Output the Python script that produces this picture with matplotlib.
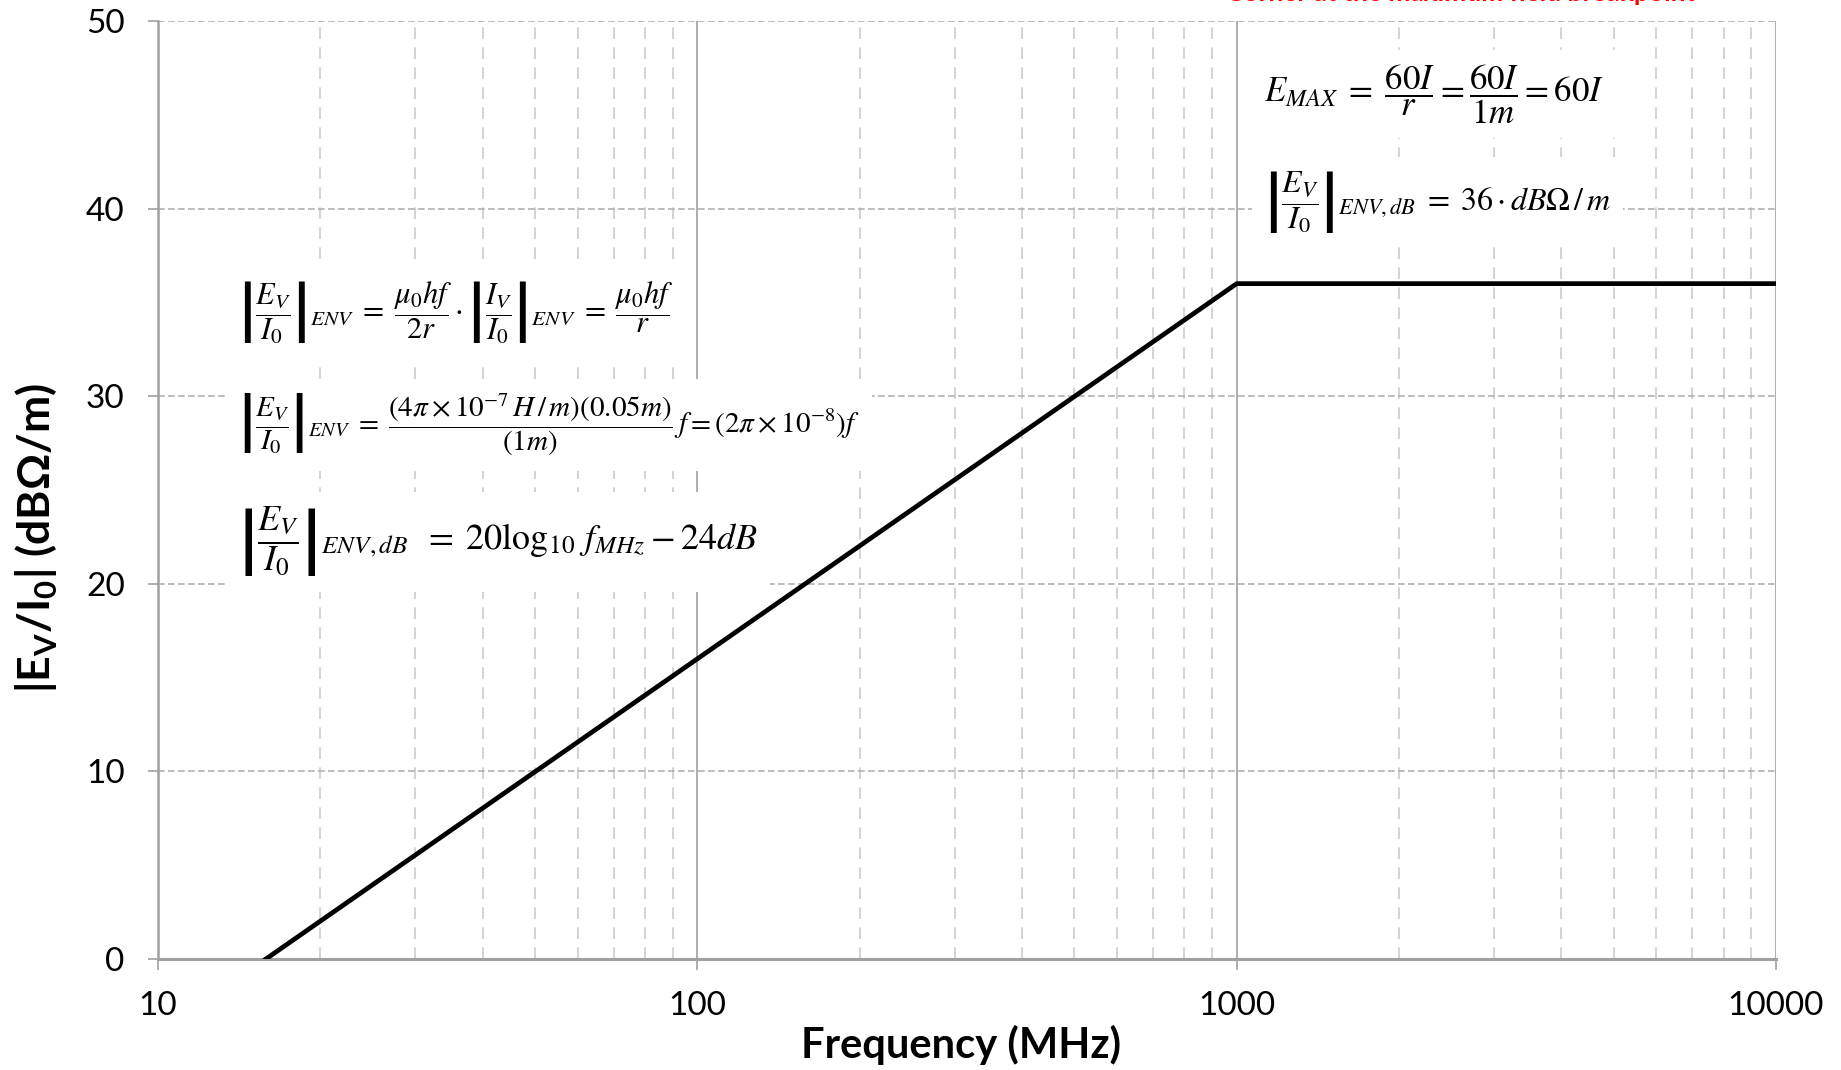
import numpy as np
import matplotlib.pyplot as plt
from matplotlib.ticker import FixedLocator, NullFormatter

# Données de la courbe (enveloppe |Ev/I0| en dB)
freq_mhz = [15.85, 1000, 10000]
niveau_db = [0, 36, 36]

x_ticks = [10, 100, 1000, 10000]
x_labels = ['10', '100', '1000', '10000']
y_ticks = [0, 10, 20, 30, 40, 50]

plt.rcParams['mathtext.fontset'] = 'custom'
plt.rcParams['mathtext.rm'] = 'Lato'
plt.rcParams['mathtext.bf'] = 'Lato:bold'

W, H = 1841, 1070
fig = plt.figure(figsize=(W / 100, H / 100), dpi=100)
ax = fig.add_axes([158 / W, 1 - 959 / H, (1776 - 158) / W, (959 - 21) / H])

# Tracer la courbe
ax.plot(freq_mhz, niveau_db, color='black', lw=3.4, zorder=5, solid_joinstyle='miter')

ax.set_xscale('log')
ax.set_xlim(10, 10000)
ax.set_ylim(0, 50)

# Grille
ax.xaxis.set_major_locator(FixedLocator(x_ticks))
ax.set_xticklabels(x_labels)
minors = [m * d for d in [10, 100, 1000] for m in range(2, 10)]
ax.xaxis.set_minor_locator(FixedLocator(minors))
ax.xaxis.set_minor_formatter(NullFormatter())
ax.set_yticks(y_ticks)
for v in x_ticks:
    ax.axvline(v, color='#a0a0a0', lw=1.2, zorder=1)
for v in minors:
    ax.axvline(v, color='#cccccc', lw=1.2, ls=(0, (7, 5)), zorder=1)
for v in y_ticks[1:]:
    ax.axhline(v, color='#b0b0b0', lw=1.2, ls=(0, (4, 2)), zorder=1)

for s in ['top', 'right']:
    ax.spines[s].set_visible(False)
ax.spines['left'].set_color('#a0a0a0')
ax.spines['left'].set_linewidth(1.8)
ax.spines['bottom'].set_color('#a0a0a0')
ax.spines['bottom'].set_linewidth(2.2)

ax.tick_params(axis='x', which='major', length=8, width=1.2, color='#a0a0a0', pad=15,
               labelsize=24)
ax.tick_params(axis='x', which='minor', length=0)
ax.tick_params(axis='y', length=7, width=1.2, color='#a0a0a0', pad=17, labelsize=24)
for lab in ax.get_xticklabels() + ax.get_yticklabels():
    lab.set_fontfamily('Lato')

ax.set_xlabel('Frequency (MHz)', fontsize=30, fontweight='bold', family='Lato', va='center')
ax.xaxis.set_label_coords(0.496, -0.092)
ax.set_ylabel(r'|E$_\mathbf{V}$/I$_\mathbf{0}$| (dB$\mathbf{\Omega}$/m)', fontsize=32,
              fontweight='bold', family='Lato', math_fontfamily='custom', va='center')
ax.yaxis.set_label_coords(-0.075, 0.449)


def eq(x, y, s, size):
    fig.text(x / W, 1 - y / H, s, fontsize=size, ha='left', va='center',
             math_fontfamily='stix', zorder=4,
             bbox=dict(facecolor='white', edgecolor='none', pad=9))


eq(238, 313, r'$\left|\dfrac{E_V}{I_0}\right|_{ENV}\;=\;\dfrac{\mu_0 hf}{2r}\cdot'
             r'\left|\dfrac{I_V}{I_0}\right|_{ENV}\;=\;\dfrac{\mu_0 hf}{r}$', 22)
eq(238, 425, r'$\left|\dfrac{E_V}{I_0}\right|_{ENV}\;=\;\dfrac{(4\pi\times10^{-7}\,H\,/\,m)(0.05m)}{(1m)}'
             r'\,f = (2\pi\times10^{-8})f$', 21)
eq(238, 542, r'$\left|\dfrac{E_V}{I_0}\right|_{ENV,dB}\;\;=\;20\log_{10}\,f_{MHz} - 24dB$', 26)
eq(1264, 94, r'$E_{MAX}\;=\;\dfrac{60I}{r} = \dfrac{60I}{1m} = 60I$', 25)
eq(1264, 202, r'$\left|\dfrac{E_V}{I_0}\right|_{ENV,dB}\;=\;36\cdot dB\Omega\,/\,m$', 23)

# Texte rouge coupé en haut de l'image
fig.text(1461 / W, 1 - 1 / H, 'Corner at the maximum field breakpoint', color='red',
         fontsize=19, fontweight='bold', family='Lato', ha='center', va='baseline')

fig.savefig('out.png', dpi=100)
